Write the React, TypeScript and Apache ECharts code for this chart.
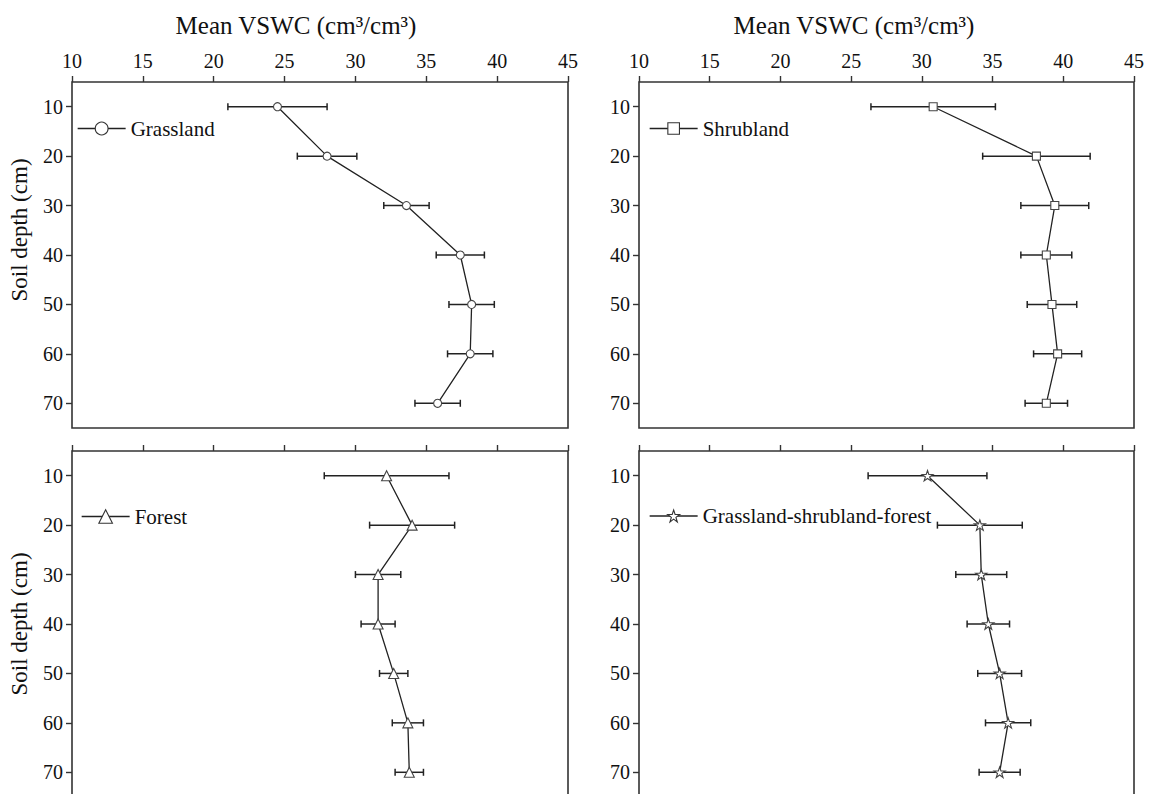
import React, { useEffect, useRef } from "react";
import * as echarts from "echarts";

const depths = [10, 20, 30, 40, 50, 60, 70];
const depthTicks = [10, 20, 30, 40, 50, 60, 70];
const xTickMin = 10;
const xTickMax = 45;
const xTickStep = 5;

const panelNames = ["Grassland", "Shrubland", "Forest", "Grassland-shrubland-forest"];

const grasslandMean = [24.5, 28.0, 33.6, 37.4, 38.2, 38.1, 35.8];
const grasslandErr = [3.5, 2.1, 1.6, 1.7, 1.6, 1.6, 1.6];
const shrublandMean = [30.8, 38.1, 39.4, 38.8, 39.2, 39.6, 38.8];
const shrublandErr = [4.4, 3.8, 2.4, 1.8, 1.75, 1.7, 1.5];
const forestMean = [32.2, 34.0, 31.6, 31.6, 32.7, 33.7, 33.8];
const forestErr = [4.4, 3.0, 1.6, 1.2, 1.0, 1.1, 1.0];
const gsfMean = [30.4, 34.1, 34.2, 34.7, 35.5, 36.1, 35.5];
const gsfErr = [4.2, 3.0, 1.8, 1.5, 1.55, 1.6, 1.45];

const xTitle = "Mean VSWC (cm³/cm³)";
const yTitle = "Soil depth (cm)";

const FONT = "Liberation Serif";
const STAR = "path://M12,0 L14.9,8.6 L24,8.6 L16.6,14 L19.4,22.8 L12,17.4 L4.6,22.8 L7.4,14 L0,8.6 L9.1,8.6 Z";

export default function App() {
  const ref = useRef<HTMLDivElement>(null);
  useEffect(() => {
    if (!ref.current) return;
    const chart = echarts.init(ref.current, undefined, { renderer: "svg" });
    const means = [grasslandMean, shrublandMean, forestMean, gsfMean];
    const errs = [grasslandErr, shrublandErr, forestErr, gsfErr];
    const symbols = ["circle", "rect", "triangle", STAR];
    const symbolSizes = [8, 8, 10, 11];
    const legendItemH = [16, 14.5, 17, 15];
    const grids = [
      { left: 72, top: 82, width: 496, height: 346 },
      { left: 639, top: 82, width: 495, height: 346 },
      { left: 72, top: 451, width: 496, height: 346 },
      { left: 639, top: 451, width: 495, height: 346 },
    ].map((g) => ({ ...g, show: true, borderColor: "#333", borderWidth: 1.6, backgroundColor: "transparent" }));
    const legendPos = [
      { left: 77, cy: 129 },
      { left: 649, cy: 129 },
      { left: 81, cy: 517 },
      { left: 649, cy: 516.5 },
    ];

    const xAxis = grids.map((_, i) => ({
      type: "value",
      gridIndex: i,
      position: "top",
      min: xTickMin,
      max: xTickMax,
      interval: xTickStep,
      axisLine: { show: false },
      axisTick: { show: true, length: 6, lineStyle: { color: "#333", width: 1.4 } },
      axisLabel: { show: i < 2, fontFamily: FONT, fontSize: 20, color: "#111", margin: 11 },
      splitLine: { show: false },
    }));
    const yAxis = grids.map((_, i) => ({
      type: "value",
      gridIndex: i,
      inverse: true,
      min: 5,
      max: 75,
      axisLine: { show: false },
      axisTick: { show: true, length: 6, customValues: depthTicks, lineStyle: { color: "#333", width: 1.4 } },
      axisLabel: { show: true, customValues: depthTicks, fontFamily: FONT, fontSize: 20, color: "#111", margin: 9 },
      splitLine: { show: false },
    }));

    const series: any[] = [];
    for (let i = 0; i < 4; i++) {
      series.push({
        type: "custom",
        xAxisIndex: i,
        yAxisIndex: i,
        z: 2,
        silent: true,
        encode: { x: [0, 1], y: 2 },
        data: depths.map((d, j) => [means[i][j] - errs[i][j], means[i][j] + errs[i][j], d]),
        renderItem: (params: any, api: any) => {
          const lo = api.coord([api.value(0), api.value(2)]);
          const hi = api.coord([api.value(1), api.value(2)]);
          const cap = 3.5;
          const style = { stroke: "#222", lineWidth: 1.5 };
          return {
            type: "group",
            children: [
              { type: "line", shape: { x1: lo[0], y1: lo[1], x2: hi[0], y2: hi[1] }, style },
              { type: "line", shape: { x1: lo[0], y1: lo[1] - cap, x2: lo[0], y2: lo[1] + cap }, style },
              { type: "line", shape: { x1: hi[0], y1: hi[1] - cap, x2: hi[0], y2: hi[1] + cap }, style },
            ],
          };
        },
      });
      series.push({
        type: "line",
        name: panelNames[i],
        xAxisIndex: i,
        yAxisIndex: i,
        z: 3,
        data: depths.map((d, j) => [means[i][j], d]),
        symbol: symbols[i],
        symbolSize: symbolSizes[i],
        symbolKeepAspect: true,
        showAllSymbol: true,
        lineStyle: { color: "#222", width: 1.3 },
        itemStyle: { color: "#fff", borderColor: "#444", borderWidth: 1.1 },
      });
    }

    const legend = legendPos.map((p, i) => ({
      data: [panelNames[i]],
      left: p.left,
      top: p.cy - 11,
      padding: 0,
      itemWidth: 48,
      itemHeight: legendItemH[i],
      selectedMode: false,
      itemStyle: { color: "#fff", borderColor: "#333", borderWidth: 1.1 },
      lineStyle: { color: "#222", width: 1.3 },
      textStyle: { fontFamily: FONT, fontSize: 21, color: "#111" },
    }));

    const titleStyle = { text: xTitle, fontFamily: FONT, fontSize: 25, fill: "#111", textAlign: "center", textVerticalAlign: "middle" };
    const yTitleStyle = { text: yTitle, fontFamily: FONT, fontSize: 23, fill: "#111", textAlign: "center", textVerticalAlign: "middle" };

    chart.setOption({
      animation: false,
      backgroundColor: "#fff",
      grid: grids,
      xAxis,
      yAxis,
      legend,
      series,
      graphic: [
        { type: "text", x: 296, y: 25, style: titleStyle },
        { type: "text", x: 854, y: 25, style: titleStyle },
        { type: "text", x: 19, y: 230, rotation: Math.PI / 2, style: yTitleStyle },
        { type: "text", x: 19, y: 624, rotation: Math.PI / 2, style: yTitleStyle },
      ],
    });
    return () => chart.dispose();
  }, []);
  return (
    <div
      ref={ref}
      style={{ position: "fixed", left: 0, top: 0, width: 1153, height: 800, background: "#fff" }}
    />
  );
}
